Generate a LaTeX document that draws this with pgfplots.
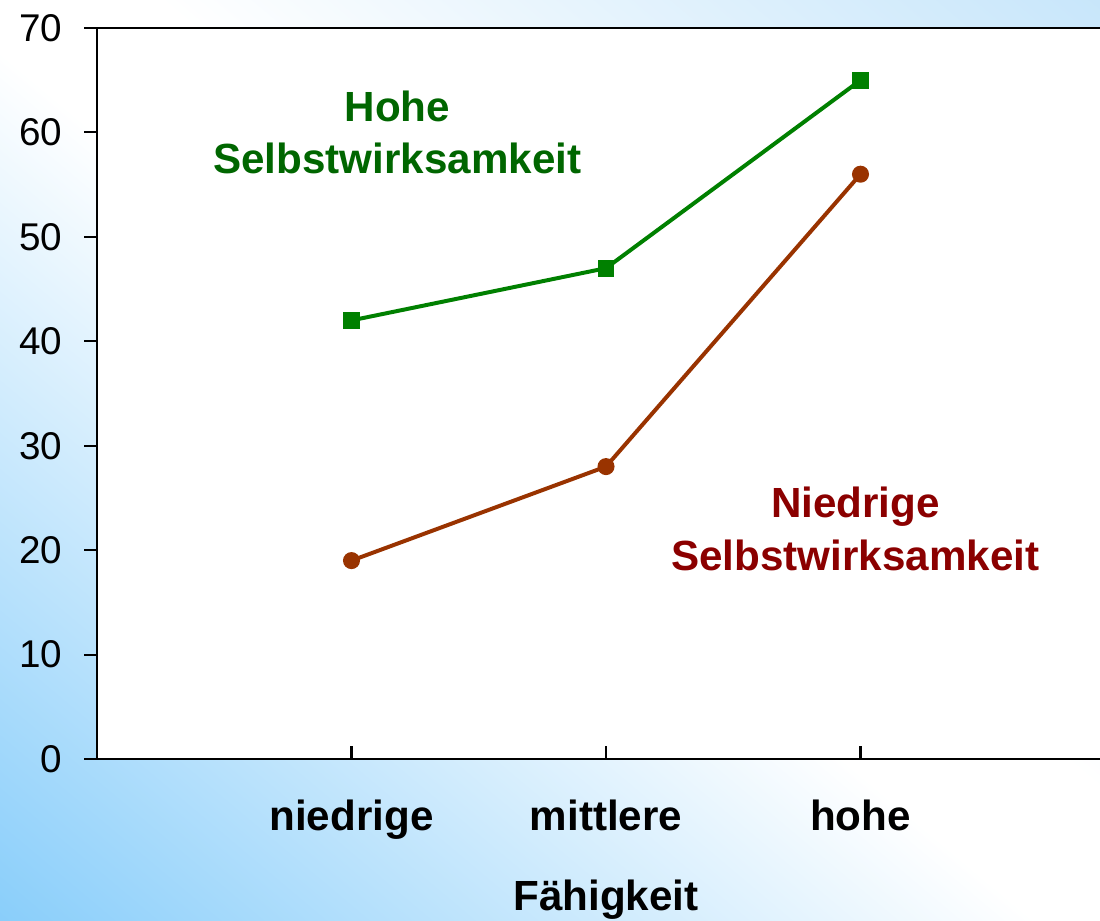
\documentclass[border=0pt]{standalone}
\usepackage{fontspec}
\setmainfont{Liberation Sans}
\usepackage{pgfplots}
\pgfplotsset{compat=1.18}
\definecolor{bgA}{RGB}{135,205,250}
\definecolor{bgB}{RGB}{195,228,250}
\definecolor{hohe}{RGB}{0,128,0}
\definecolor{hohetext}{RGB}{0,102,0}
\definecolor{niedrig}{RGB}{153,51,0}
\definecolor{niedrigtext}{RGB}{139,0,0}
\pgfdeclarehorizontalshading{bgshade}{100bp}{color(0bp)=(bgA); color(14bp)=(bgA); color(48bp)=(white); color(55bp)=(white); color(88bp)=(bgB); color(100bp)=(bgB)}

\begin{document}
\begin{tikzpicture}
\useasboundingbox (0,0) rectangle (11,9.21);
\clip (0,0) rectangle (11,9.21);
\shade[shading=bgshade, shading angle=50] (0,0) rectangle (11,9.21);
\begin{axis}[
    at={(0.97cm,1.62cm)}, anchor=south west,
    scale only axis,
    width=10.18cm, height=7.31cm,
    xmin=0, xmax=4,
    ymin=0, ymax=70,
    axis background/.style={fill=white},
    axis line style={line width=0.6pt},
    every tick/.style={black, line width=0.6pt},
    xtick={1,2,3},
    xticklabels={niedrige,mittlere,hohe},
    ytick={0,10,...,70},
    xtick pos=bottom, ytick pos=left,
    xtick align=inside, ytick align=outside,
    major tick length=1.3mm,
    xticklabel style={font=\bfseries\fontsize{12}{14}\selectfont, yshift=-8pt},
    yticklabel style={font=\fontsize{11}{13}\selectfont, xshift=-2.6pt},
    /pgf/number format/assume math mode=true,
    xlabel={Fähigkeit},
    xlabel style={font=\bfseries\fontsize{12}{14}\selectfont, at={(axis description cs:0.5,-0.149)}, anchor=north},
]
\addplot[color=hohe, line width=1.13pt, mark=square*, mark size=1.85pt, mark options={solid}]
  coordinates {(1,42) (2,47) (3,65)};
\addplot[color=niedrig, line width=1.13pt, mark=*, mark size=1.85pt, mark options={solid}]
  coordinates {(1,19) (2,28) (3,56)};
\node[text=hohetext, font=\bfseries\fontsize{12}{15}\selectfont, align=center] at (axis cs:1.18,60) {Hohe\\Selbstwirksamkeit};
\node[text=niedrigtext, font=\bfseries\fontsize{12}{15}\selectfont, align=center] at (axis cs:2.98,22) {Niedrige\\Selbstwirksamkeit};
\end{axis}
\end{tikzpicture}
\end{document}
